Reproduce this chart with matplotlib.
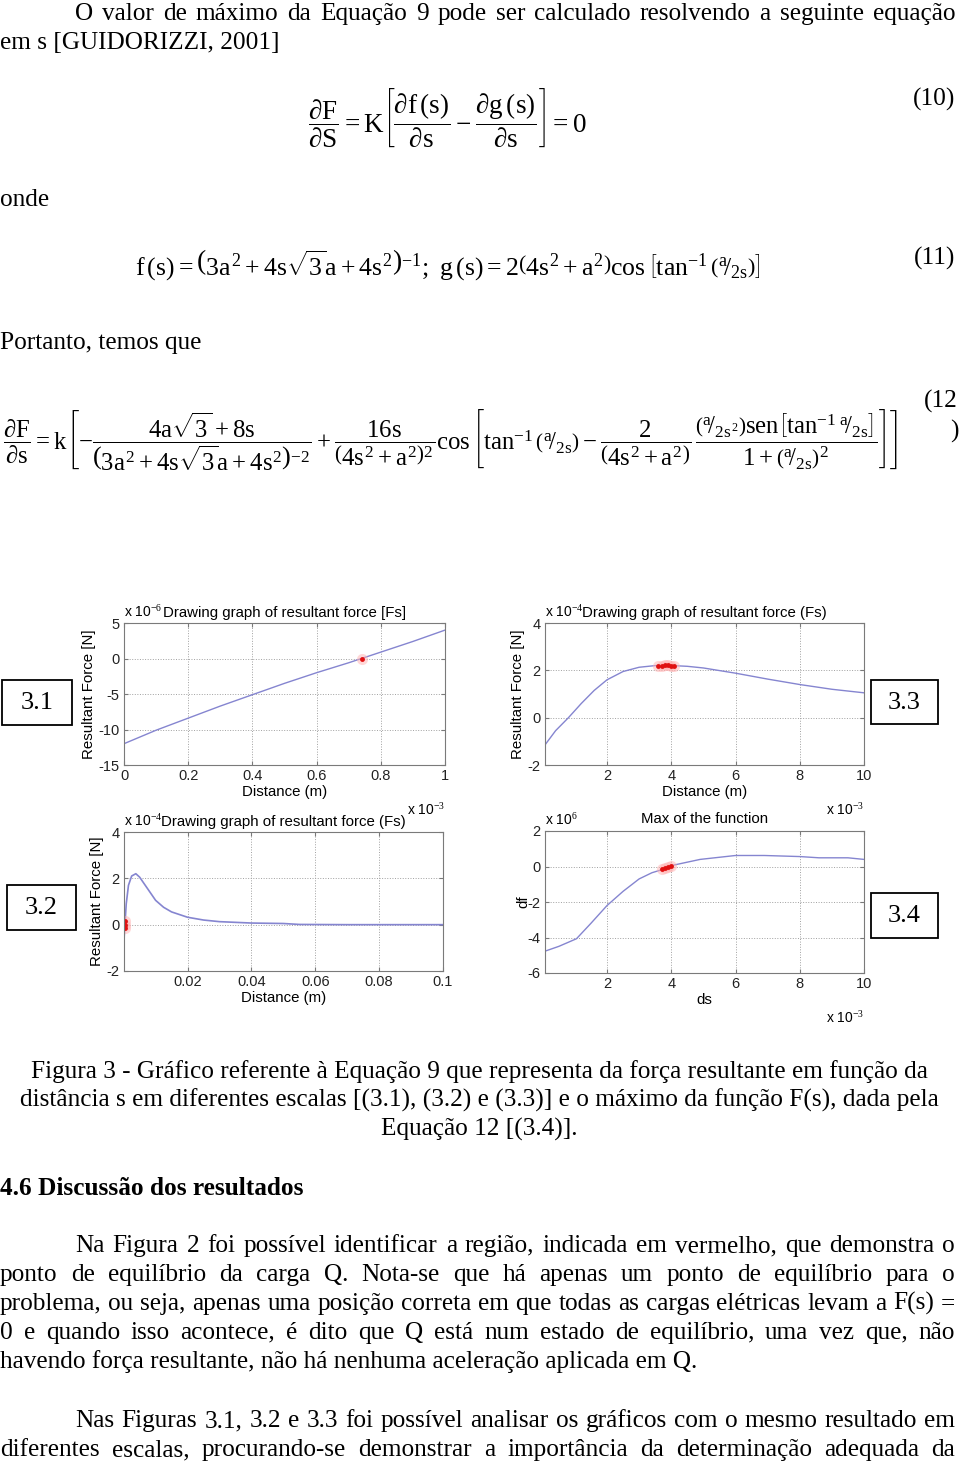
import matplotlib
matplotlib.use("Agg")
import matplotlib.pyplot as plt
from matplotlib.patches import Rectangle

# Page size in pixels
W, H = 960, 1462

# ---- data ----
# 3.1 : distance in 1e-3 m, force in 1e-6 N
x31 = [0.0, 0.1, 0.2, 0.3, 0.4, 0.5, 0.6, 0.7, 0.8, 0.9, 1.0]
y31 = [-12.0, -10.1, -8.4, -6.7, -5.1, -3.5, -2.0, -0.6, 0.9, 2.4, 4.0]
red31_x = [0.74]
red31_y = [0.0]

# 3.2 : distance in m, force in 1e-4 N
x32 = [0.0001, 0.0008, 0.0015, 0.0025, 0.0038, 0.005, 0.0065, 0.008, 0.01,
       0.0125, 0.015, 0.02, 0.025, 0.03, 0.035, 0.04, 0.05, 0.055, 0.07, 0.085, 0.1]
y32 = [-0.65, 0.9, 1.7, 2.1, 2.2, 2.05, 1.75, 1.45, 1.05,
       0.75, 0.55, 0.32, 0.2, 0.13, 0.1, 0.07, 0.05, 0.01, 0.0, 0.0, 0.0]
red32_x = [0.0003, 0.0004, 0.0005]
red32_y = [-0.15, 0.0, 0.15]

# 3.3 : distance in 1e-3 m, force in 1e-4 N
x33 = [0.07, 0.4, 0.8, 1.2, 1.6, 2.0, 2.5, 3.0, 3.5, 3.9, 4.5, 5.0, 6.0, 7.0, 8.0, 9.0, 10.0]
y33 = [-1.15, -0.55, 0.0, 0.6, 1.15, 1.6, 1.95, 2.13, 2.2, 2.21, 2.17, 2.1, 1.88, 1.63, 1.4, 1.2, 1.05]
red33_x = [3.6, 3.7, 3.8, 3.9, 4.0, 4.1]
red33_y = [2.19, 2.2, 2.21, 2.21, 2.2, 2.19]

# 3.4 : ds in 1e-3 m, df in 1e6
x34 = [0.07, 0.5, 1.05, 1.5, 2.0, 2.5, 3.0, 3.4, 3.8, 4.0, 4.9, 6.0, 6.9, 8.0, 8.6, 9.5, 10.0]
y34 = [-4.77, -4.5, -4.07, -3.2, -2.2, -1.4, -0.7, -0.35, -0.13, 0.05, 0.4, 0.62, 0.62, 0.56, 0.49, 0.49, 0.4]
red34_x = [3.7, 3.8, 3.9, 4.0]
red34_y = [-0.12, -0.06, 0.0, 0.05]

# ---- page text ----
para0 = ["O valor de máximo da Equação 9 pode ser calculado resolvendo a seguinte equação",
         "em s [GUIDORIZZI, 2001]"]
caption = ["Figura 3 - Gráfico referente à Equação 9 que representa da força resultante em função da",
           "distância s em diferentes escalas [(3.1), (3.2) e (3.3)] e o máximo da função F(s), dada pela",
           "Equação 12 [(3.4)]."]
para1 = ["Na Figura 2 foi possível identificar a região, indicada em vermelho, que demonstra o",
         "ponto de equilíbrio da carga Q. Nota-se que há apenas um ponto de equilíbrio para o",
         "problema, ou seja, apenas uma posição correta em que todas as cargas elétricas levam a F(s) =",
         "0 e quando isso acontece, é dito que Q está num estado de equilíbrio, uma vez que, não",
         "havendo força resultante, não há nenhuma aceleração aplicada em Q."]
para2 = ["Nas Figuras 3.1, 3.2 e 3.3 foi possível analisar os gráficos com o mesmo resultado em",
         "diferentes escalas, procurando-se demonstrar a importância da determinação adequada da"]

plt.rcParams["mathtext.fontset"] = "custom"
plt.rcParams["mathtext.rm"] = "Liberation Serif"
plt.rcParams["mathtext.it"] = "Liberation Serif"
plt.rcParams["mathtext.bf"] = "Liberation Serif:bold"
plt.rcParams["axes.unicode_minus"] = False

fig = plt.figure(figsize=(9.6, 14.62), dpi=100)
renderer = fig.canvas.get_renderer()

SERIF = "Liberation Serif"
SANS = "Liberation Sans"
BODY = 18.2


def fx(x):
    return x / W


def fy(y):
    return 1 - y / H


def put(x, y, s, size=BODY, **kw):
    kw.setdefault("va", "baseline")
    kw.setdefault("family", SERIF)
    return fig.text(fx(x), fy(y), s, fontsize=size, **kw)


def justify(line, x0, x1, y):
    # spread the words of one line between x0 and x1
    words = line.split()
    texts = [put(0, y, w) for w in words]
    widths = [t.get_window_extent(renderer).width for t in texts]
    gap = (x1 - x0 - sum(widths)) / (len(words) - 1)
    x = x0
    for t, w in zip(texts, widths):
        t.set_x(fx(x))
        x += w + gap


RIGHT = 955

# first paragraph
justify(para0[0], 75, RIGHT, 20)
put(0, 49, para0[1])

# equation 10
eq10 = (r"$\dfrac{\partial\mathrm{F}}{\partial\mathrm{S}}=\mathrm{K}\left[\dfrac{\partial\mathrm{f}\,"
        r"(\mathrm{s})}{\partial\mathrm{s}}-\dfrac{\partial\mathrm{g}\,(\mathrm{s})}"
        r"{\partial\mathrm{s}}\right]=0$")
put(447, 118, eq10, size=19.5, ha="center", va="center")
put(RIGHT, 106, "(10)", ha="right")

put(0, 206, "onde")

eq11 = (r"$\mathrm{f}\,(\mathrm{s})=\left(3a^{2}+4s\sqrt{3}a+4s^{2}\right)^{-1};\ "
        r"\mathrm{g}\,(\mathrm{s})=2\left(4s^{2}+a^{2}\right)\cos\left[\tan^{-1}"
        r"\left({}^{a}\!/_{2s}\right)\right]$")
put(448, 265, eq11, size=18.5, ha="center", va="center")
put(RIGHT, 265, "(11)", ha="right")

put(0, 349, "Portanto, temos que")

eq12 = (r"$\dfrac{\partial F}{\partial s}=k\left[-\dfrac{4a\sqrt{3}+8s}{\left(3a^{2}+4s\sqrt{3}a+4s^{2}\right)^{-2}}"
        r"+\dfrac{16s}{\left(4s^{2}+a^{2}\right)^{2}}\cos\left[\tan^{-1}\left({}^{a}\!/_{2s}\right)"
        r"-\dfrac{2}{\left(4s^{2}+a^{2}\right)}\,\dfrac{\left({}^{a}\!/_{2s^{2}}\right)\mathrm{sen}"
        r"\left[\tan^{-1}{}^{a}\!/_{2s}\right]}{1+\left({}^{a}\!/_{2s}\right)^{2}}\right]\right]$")
put(450, 440, eq12, size=17.8, ha="center", va="center")
put(958, 408, "(12", ha="right")
put(950, 438, ")")

# caption
for i, line in enumerate(caption):
    put(479, 1078 + 29 * i, line, ha="center")

put(0, 1195, "4.6 Discussão dos resultados", weight="bold")

for i, line in enumerate(para1):
    y = 1252 + 29 * i
    if i == len(para1) - 1:
        put(0, y, line)
    else:
        justify(line, 75 if i == 0 else 0, RIGHT, y)

for i, line in enumerate(para2):
    justify(line, 75 if i == 0 else 0, RIGHT, 1427 + 29 * i)


# ---- panels ----
LINE = "#8585d0"
TICK = 10.5


def panel(left, top, right, bottom):
    ax = fig.add_axes([fx(left), fy(bottom), (right - left) / W, (bottom - top) / H])
    for s in ax.spines.values():
        s.set_color("#7a7a7a")
        s.set_linewidth(0.8)
    ax.tick_params(direction="in", length=3, colors="#7a7a7a", labelcolor="#222222",
                   labelsize=TICK, top=True, right=True, pad=3)
    ax.grid(True, linestyle=":", color="#a0a0a0", linewidth=0.7)
    return ax


def fonts(ax):
    for lab in ax.get_xticklabels() + ax.get_yticklabels():
        lab.set_family(SANS)


def red(ax, xs, ys):
    ax.plot(xs, ys, "o", color="#ffb0b0", ms=8, alpha=0.5, mec="none")
    ax.plot(xs, ys, "o", color="#e01010", ms=3.5, mec="none")


# 3.1
ax1 = panel(124, 623, 445, 765)
ax1.plot(x31, y31, color=LINE, lw=1)
red(ax1, red31_x, red31_y)
ax1.set_xlim(0, 1)
ax1.set_ylim(-15, 5)
ax1.set_xticks([0, 0.2, 0.4, 0.6, 0.8, 1])
ax1.set_xticklabels(["0", "0.2", "0.4", "0.6", "0.8", "1"])
ax1.set_yticks([-15, -10, -5, 0, 5])
ax1.set_title("Drawing graph of resultant force [Fs]", fontsize=10.8, family=SANS, pad=4)
ax1.set_xlabel("Distance (m)", fontsize=10.8, family=SANS, labelpad=1)
ax1.set_ylabel("Resultant Force [N]", fontsize=10.8, family=SANS, labelpad=2)
ax1.text(0.0, 1.02, r"x 10$^{-6}$", transform=ax1.transAxes, fontsize=10, family=SANS, va="bottom")
ax1.text(1.0, -0.32, r"x 10$^{-3}$", transform=ax1.transAxes, fontsize=10, family=SANS, ha="right", va="center")
fonts(ax1)

# 3.3
ax3 = panel(545, 623, 864, 765)
ax3.plot(x33, y33, color=LINE, lw=1)
red(ax3, red33_x, red33_y)
ax3.set_xlim(0.07, 10)
ax3.set_ylim(-2, 4)
ax3.set_xticks([2, 4, 6, 8, 10])
ax3.set_yticks([-2, 0, 2, 4])
ax3.set_title("Drawing graph of resultant force (Fs)", fontsize=10.8, family=SANS, pad=4)
ax3.set_xlabel("Distance (m)", fontsize=10.8, family=SANS, labelpad=1)
ax3.set_ylabel("Resultant Force [N]", fontsize=10.8, family=SANS, labelpad=2)
ax3.text(0.0, 1.02, r"x 10$^{-4}$", transform=ax3.transAxes, fontsize=10, family=SANS, va="bottom")
ax3.text(1.0, -0.32, r"x 10$^{-3}$", transform=ax3.transAxes, fontsize=10, family=SANS, ha="right", va="center")
fonts(ax3)

# 3.2
ax2 = panel(124, 832, 443, 971)
ax2.plot(x32, y32, color=LINE, lw=1.2)
red(ax2, red32_x, red32_y)
ax2.set_xlim(0.0001, 0.1)
ax2.set_ylim(-2, 4)
ax2.set_xticks([0.02, 0.04, 0.06, 0.08, 0.1])
ax2.set_xticklabels(["0.02", "0.04", "0.06", "0.08", "0.1"])
ax2.set_yticks([-2, 0, 2, 4])
ax2.set_title("Drawing graph of resultant force (Fs)", fontsize=10.8, family=SANS, pad=4)
ax2.set_xlabel("Distance (m)", fontsize=10.8, family=SANS, labelpad=1)
ax2.set_ylabel("Resultant Force [N]", fontsize=10.8, family=SANS, labelpad=2)
ax2.text(0.0, 1.02, r"x 10$^{-4}$", transform=ax2.transAxes, fontsize=10, family=SANS, va="bottom")
fonts(ax2)

# 3.4
ax4 = panel(545, 831, 864, 973)
ax4.plot(x34, y34, color=LINE, lw=1)
red(ax4, red34_x, red34_y)
ax4.set_xlim(0.07, 10)
ax4.set_ylim(-6, 2)
ax4.set_xticks([2, 4, 6, 8, 10])
ax4.set_yticks([-6, -4, -2, 0, 2])
ax4.set_title("Max of the function", fontsize=10.8, family=SANS, pad=6)
ax4.set_xlabel("ds", fontsize=10.8, family=SANS, labelpad=1)
ax4.set_ylabel("df", fontsize=10.8, family=SANS, labelpad=-2)
ax4.text(0.0, 1.02, r"x 10$^{6}$", transform=ax4.transAxes, fontsize=10, family=SANS, va="bottom")
ax4.text(1.0, -0.32, r"x 10$^{-3}$", transform=ax4.transAxes, fontsize=10, family=SANS, ha="right", va="center")
fonts(ax4)

# panel labels in boxes
boxes = [("3.1", 2, 680, 72, 725), ("3.3", 871, 680, 938, 724),
         ("3.2", 7, 885, 76, 930), ("3.4", 871, 893, 938, 938)]
for lab, l, t, r, b in boxes:
    fig.patches.append(Rectangle((fx(l), fy(b)), (r - l) / W, (b - t) / H, transform=fig.transFigure,
                                 fill=False, edgecolor="black", linewidth=1.3))
    put((l + r) / 2, (t + b) / 2 + 1, lab, size=19, ha="center", va="center")

fig.savefig("out.png", dpi=100, facecolor="white")
